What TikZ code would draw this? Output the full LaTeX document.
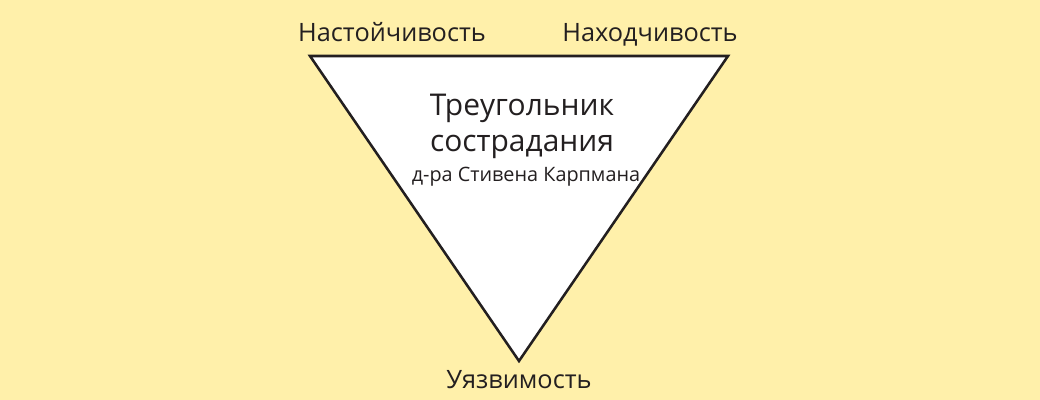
\documentclass[tikz,border=0pt]{standalone}
\usepackage{fontspec}
\setmainfont{Open Sans}
\usepackage{tikz}
\definecolor{paper}{HTML}{FFF0AA}
\definecolor{ink}{HTML}{231F20}
\tikzset{corner/.style={text=ink,anchor=base,inner sep=0pt,font=\fontsize{18}{21}\selectfont}}
\tikzset{title/.style={text=ink,anchor=base,inner sep=0pt,font=\fontsize{21.3}{25}\selectfont}}
\tikzset{subtitle/.style={text=ink,anchor=base,inner sep=0pt,font=\fontsize{14.1}{17}\selectfont}}
\tikzset{edge/.style={draw=ink,line width=1.8pt,fill=white,line join=miter}}

\begin{document}
\begin{tikzpicture}[x=0.025cm,y=-0.025cm]
    \fill[paper] (0,0) rectangle (1040,400);
    \useasboundingbox (0,0) rectangle (1040,400);
    % corners of the triangle
    \coordinate (tl) at (310,56);
    \coordinate (tr) at (728,56);
    \coordinate (bt) at (519,361);
    \draw[edge] (tl) -- (tr) -- (bt) -- cycle;
    % Labels
    \node[corner] (persist) at (392,42) {Настойчивость};
    \node[corner] (resource) at (650,42) {Находчивость};
    \node[corner] (vulner) at (519,388) {Уязвимость};
    \node[title] (t1) at (522,116) {Треугольник};
    \node[title] (t2) at (522,152) {сострадания};
    \node[subtitle] (t3) at (526,182) {д-ра Стивена Карпмана};
\end{tikzpicture}
\end{document}
